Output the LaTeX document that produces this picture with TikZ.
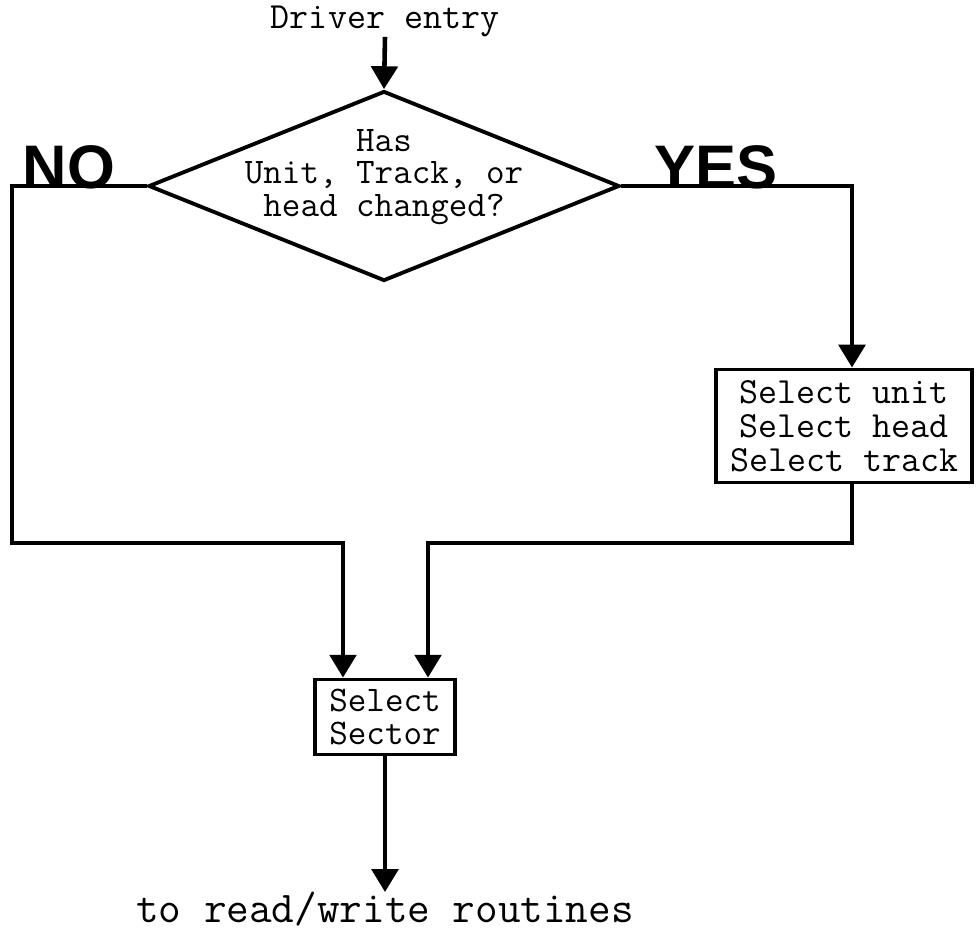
\documentclass[tikz,border=0pt]{standalone}
\usepackage{fontspec}
\newfontfamily\answerfont{Liberation Sans}
\usetikzlibrary{calc, positioning, shapes.geometric, arrows.meta}

\tikzset{
  line/.style={line width=2.6pt},
  flow/.style={line width=2.6pt, -{Triangle[width=15pt, length=13pt]}},
  txt/.style={font=\fontsize{20.5}{18.5}\selectfont\ttfamily, align=center, inner sep=0pt},
  procbox/.style={draw, line width=2.2pt, txt},
  decision/.style={draw, diamond, line width=2.2pt, inner sep=0pt},
  answer/.style={font=\fontsize{35}{35}\selectfont\answerfont\bfseries, inner sep=0pt, anchor=base},
}

\begin{document}
\begin{tikzpicture}[x=0.02cm, y=-0.02cm]
    \useasboundingbox (0,0) rectangle (979,937);

    % Entry and decision
    \node[txt, font=\fontsize{21}{21}\selectfont\ttfamily] (entry) at (385,21) {Driver entry};
    \node[decision, minimum width=9.42cm, minimum height=3.8cm] (dec) at (384,186) {};
    \node[txt] (qtext) at (384,177) {Has\\Unit, Track, or\\head changed?};
    \node[answer] (no) at (69,188) {NO};
    \node[answer] (yes) at (716,188) {YES};

    % Boxes
    \node[procbox, font=\fontsize{21}{19.5}\selectfont\ttfamily,
          minimum width=5.12cm, minimum height=2.26cm] (sel) at (844,426)
        {Select unit\\Select head\\Select track};
    \node[procbox, minimum width=2.8cm, minimum height=1.5cm] (sector) at (385,717)
        {Select\\Sector};
    \node[txt, anchor=north, font=\fontsize{25}{25}\selectfont\ttfamily] (exit) at (385,892)
        {to read/write routines};

    % Corners of the branches
    \coordinate (nocorner) at (12,186);
    \coordinate (nojoin) at (12,543);
    \coordinate (yescorner) at (852,186);
    \coordinate (yesjoin) at (852,543);

    % Connectors
    \draw[flow] (entry.south) -- (dec.north);
    \draw[flow] (dec.west) -- (nocorner) -- (nojoin) -| ($(sector.north)+(-42,0)$);
    \draw[flow] (dec.east) -- (yescorner) -- (yescorner |- sel.north);
    \draw[flow] (yescorner |- sel.south) -- (yesjoin) -| ($(sector.north)+(43,0)$);
    \draw[flow] (sector.south) -- (exit.north);
\end{tikzpicture}
\end{document}
